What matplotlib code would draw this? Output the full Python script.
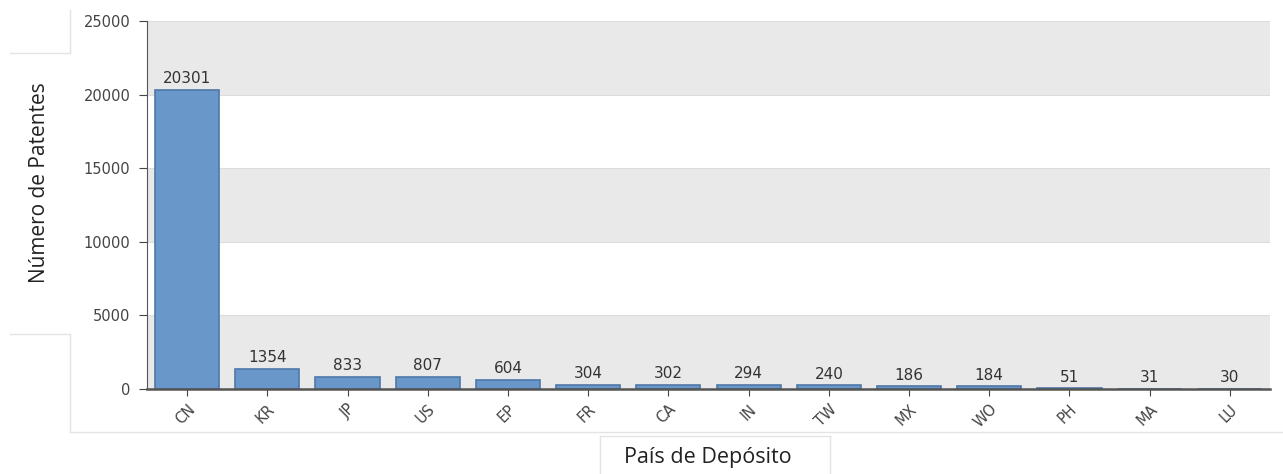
import numpy as np
import matplotlib
matplotlib.use("Agg")
import matplotlib.pyplot as plt
from matplotlib.lines import Line2D

paises = ["CN", "KR", "JP", "US", "EP", "FR", "CA", "IN", "TW", "MX", "WO", "PH", "MA", "LU"]
patentes = [20301, 1354, 833, 807, 604, 304, 302, 294, 240, 186, 184, 51, 31, 30]
yticks = [0, 5000, 10000, 15000, 20000, 25000]

W, H = 1283, 474
fig = plt.figure(figsize=(W / 100, H / 100), dpi=100)
ax = fig.add_axes([147 / W, 1 - 389 / H, (1270 - 147) / W, (389 - 21) / H])

# alternating grey bands
for i in range(0, len(yticks) - 1, 2):
    ax.axhspan(yticks[i], yticks[i + 1], color="#e9e9e9", zorder=0, lw=0)
for y in yticks[1:]:
    ax.axhline(y, color="#dcdcdc", lw=0.8, zorder=0.5)

x = np.arange(len(paises))
ax.bar(x, patentes, width=0.8, color="#6a97c9", edgecolor="#4f78a8",
       linewidth=1.2, zorder=2)
for xi, v in zip(x, patentes):
    ax.text(xi, v + 250, str(v), ha="center", va="bottom", fontsize=11,
            color="#333333", family="DejaVu Sans")

ax.set_xlim(-0.5, len(paises) - 0.5)
ax.set_ylim(0, 25000)
ax.set_yticks(yticks)
ax.set_xticks(x)
ax.set_xticklabels(paises, rotation=45, ha="right", rotation_mode="anchor",
                   fontsize=10.5, color="#444444")
ax.tick_params(axis="y", labelsize=10.5, colors="#444444", length=6, pad=6)
ax.tick_params(axis="x", length=5, color="#444444", pad=4)
for s in ["top", "right"]:
    ax.spines[s].set_visible(False)
ax.spines["left"].set_color("#555555")
ax.spines["bottom"].set_color("#555555")
ax.spines["bottom"].set_linewidth(1.8)

# faint frame lines from the original screenshot
fc = "#e4e4e4"
frame = [
    ((10, 70), (53, 53)), ((70, 70), (10, 53)),
    ((10, 70), (334, 334)), ((70, 70), (334, 432)), ((70, 1283), (432, 432)),
    ((600, 600), (436, 474)), ((600, 830), (436, 436)), ((830, 830), (436, 474)),
]
for xs, ys in frame:
    fig.add_artist(Line2D([v / W for v in xs], [1 - v / H for v in ys],
                          color=fc, lw=1))

fig.text(40 / W, 1 - 183 / H, "Número de Patentes", rotation=90,
         ha="center", va="center", fontsize=15, family="Open Sans",
         color="#222222")
fig.text(708 / W, 1 - 458 / H, "País de Depósito", ha="center", va="center",
         fontsize=15.5, family="Open Sans", color="#222222")

fig.savefig("out.png", dpi=100)
